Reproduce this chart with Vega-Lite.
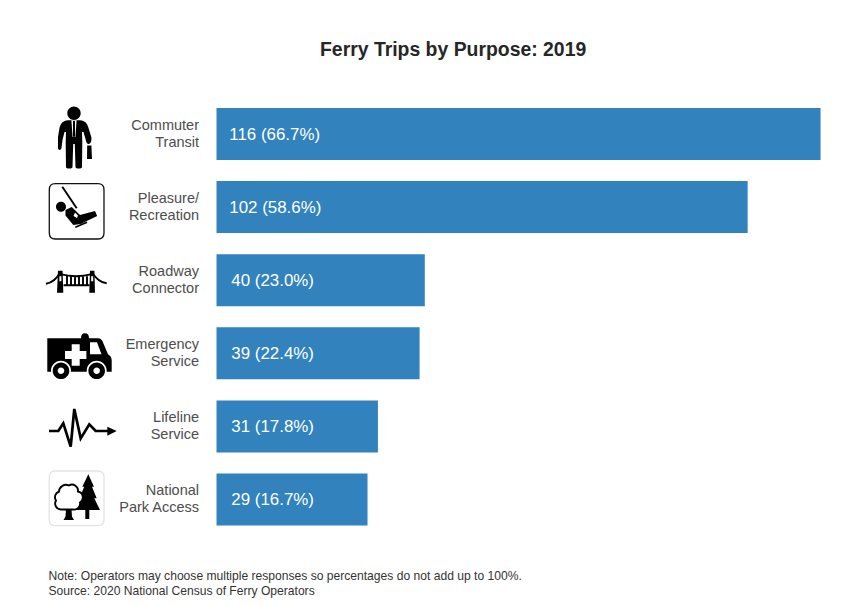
{
  "$schema": "https://vega.github.io/schema/vega-lite/v6.json",
  "width": 846,
  "height": 417.5,
  "autosize": "none",
  "padding": {"top": 108, "left": 0, "right": 0, "bottom": 79.5},
  "background": "white",
  "config": {"view": {"stroke": null}, "font": "Liberation Sans"},
  "title": {
    "text": "Ferry Trips by Purpose: 2019",
    "anchor": "start",
    "dx": 320,
    "offset": 46,
    "font": "Liberation Sans",
    "fontSize": 19.4,
    "fontWeight": "bold",
    "color": "#262626"
  },
  "data": {
    "values": [
      {"purpose": "Commuter|Transit", "trips": 116, "label": "116 (66.7%)"},
      {"purpose": "Pleasure/|Recreation", "trips": 102, "label": "102 (58.6%)"},
      {"purpose": "Roadway|Connector", "trips": 40, "label": "40 (23.0%)"},
      {"purpose": "Emergency|Service", "trips": 39, "label": "39 (22.4%)"},
      {"purpose": "Lifeline|Service", "trips": 31, "label": "31 (17.8%)"},
      {"purpose": "National|Park Access", "trips": 29, "label": "29 (16.7%)"}
    ]
  },
  "encoding": {
    "y": {
      "field": "purpose",
      "type": "nominal",
      "sort": null,
      "axis": null,
      "scale": {"paddingInner": 0.2886, "paddingOuter": 0}
    }
  },
  "resolve": {"scale": {"shape": "independent"}},
  "layer": [
    {
      "mark": {"type": "bar", "color": "#3182bd"},
      "encoding": {
        "x": {
          "field": "trips",
          "type": "quantitative",
          "scale": {"domain": [-41.58, 120.89], "nice": false, "zero": false},
          "axis": {
            "domain": false,
            "ticks": false,
            "labels": false,
            "grid": false,
            "title": [
              "Note: Operators may choose multiple responses so percentages do not add up to 100%.",
              "Source: 2020 National Census of Ferry Operators"
            ],
            "titleFont": "Liberation Sans",
            "titleFontSize": 12.1,
            "titleFontWeight": "normal",
            "titleColor": "#333333",
            "titleLineHeight": 15,
            "titleAlign": "left",
            "titleBaseline": "alphabetic",
            "titleX": 48,
            "titleY": 53.5
          }
        }
      }
    },
    {
      "transform": [{"filter": "datum.trips >= 100"}],
      "mark": {"type": "text", "align": "left", "baseline": "middle", "color": "white", "fontSize": 16.9, "dy": 1},
      "encoding": {
        "x": {"datum": 2.45, "type": "quantitative"},
        "text": {"field": "label"}
      }
    },
    {
      "transform": [{"filter": "datum.trips < 100"}],
      "mark": {"type": "text", "align": "left", "baseline": "middle", "color": "white", "fontSize": 16.9, "dy": 1},
      "encoding": {
        "x": {"datum": 2.85, "type": "quantitative"},
        "text": {"field": "label"}
      }
    },
    {
      "mark": {"type": "text", "align": "right", "baseline": "middle", "color": "#4d4d4d", "fontSize": 14.5, "lineBreak": "|", "lineHeight": 17, "dy": -8.5},
      "encoding": {
        "x": {"datum": -3.36, "type": "quantitative"},
        "text": {"field": "purpose"}
      }
    },
    {
      "transform": [{"filter": "datum.trips === 102 || datum.trips === 29"}],
      "mark": {"type": "point", "filled": false, "size": 4, "opacity": 1, "strokeWidth": 1.3},
      "encoding": {
        "x": {"datum": -27.37, "type": "quantitative"},
        "stroke": {"condition": {"test": "datum.trips === 102", "value": "#111111"}, "value": "#e4e4e4"},
        "shape": {
          "field": "purpose",
          "type": "nominal",
          "legend": null,
          "scale": {
            "domain": ["Pleasure/|Recreation", "National|Park Access"],
            "range": [
              "M-18.7,-23.4 L24,-23.4 Q30,-23.4 30,-17.4 L30,25.9 Q30,31.9 24,31.9 L-18.7,31.9 Q-24.7,31.9 -24.7,25.9 L-24.7,-17.4 Q-24.7,-23.4 -18.7,-23.4 Z",
              "M-18.7,-28.5 L24,-28.5 Q30,-28.5 30,-22.5 L30,20.2 Q30,26.2 24,26.2 L-18.7,26.2 Q-24.7,26.2 -24.7,20.2 L-24.7,-22.5 Q-24.7,-28.5 -18.7,-28.5 Z"
            ]
          }
        }
      }
    },
    {
      "mark": {"type": "point", "filled": true, "size": 4, "opacity": 1, "color": "#000000", "strokeWidth": 0},
      "encoding": {
        "x": {"datum": -27.37, "type": "quantitative"},
        "shape": {
          "field": "purpose",
          "type": "nominal",
          "legend": null,
          "scale": {
            "domain": ["Commuter|Transit", "Pleasure/|Recreation", "Roadway|Connector", "Emergency|Service", "Lifeline|Service", "National|Park Access"],
            "range": [
              "M-6.7,-20.7 A6.7,6.7 0 1 0 6.7,-20.7 A6.7,6.7 0 1 0 -6.7,-20.7 Z M-6,-13.7 L6,-13.7 C11,-13.7 13.5,-10 14.5,-6 L17.3,3 C17.8,6 17,10 14.7,10 C13,10 12,8 11.5,5 L9.5,-2 L8,-2 L8.3,9 L8,33 C8,35 1.5,35 1.5,33 L0.8,10 L-0.8,10 L-1.5,33 C-1.5,35 -8,35 -8,33 L-8.3,9 L-8,-2 L-9.5,-2 L-11.5,6 L-12.5,14 C-13,16.5 -15.8,16.5 -16,14 L-16,3 L-14.5,-6 C-13.5,-10 -11,-13.7 -6,-13.7 Z M13.2,11.5 L17.4,11.5 L18,25 L13,25 Z",
              "M-18,-0.4 A5,5 0 1 0 -8,-0.4 A5,5 0 1 0 -18,-0.4 Z M-8.5,2.9 L-2.3,0 L6,8 L21,3.8 L23.2,9 L6.5,17 L-0.7,18 L-8.5,8.5 Z M1,19.4 L12.7,14.4 L13.4,15.8 L1.6,20.8 Z",
              "M-16,-9.5 L-11.4,-9.5 L-10.7,12.5 L-17,12.5 Z M16,-9.5 L20.4,-9.5 L21,12.5 L15.3,12.5 Z",
              "M-26.7,-15 L24,-15 Q27,-15 28.5,-12 L34,1 Q37.7,3 37.7,7 L37.7,18.4 L-26.7,18.4 Z M7,-15 Q7,-20 11,-20 Q15,-20 15,-15 Z",
              "M33.3,0.3 L42.7,4.6 L33.3,9.3 Z",
              "M14.3,-25.2 L20,-12.8 L18,-12.8 L22.7,-1.2 L20.3,-1.2 L26,10.5 L15.3,10.5 L15.3,19.5 L11.3,19.5 L11.3,10.5 L2.7,10.5 L7.7,-1.2 L5.3,-1.2 L10.3,-12.8 L8.3,-12.8 Z"
            ]
          }
        }
      }
    },
    {
      "mark": {"type": "point", "filled": true, "size": 4, "opacity": 1, "color": "#ffffff", "strokeWidth": 0},
      "encoding": {
        "x": {"datum": -27.37, "type": "quantitative"},
        "shape": {
          "field": "purpose",
          "type": "nominal",
          "legend": null,
          "scale": {
            "domain": ["Commuter|Transit", "Pleasure/|Recreation", "Roadway|Connector", "Emergency|Service", "Lifeline|Service", "National|Park Access"],
            "range": [
              "M-2.6,-13.7 L2.6,-13.7 L1.4,3 L-1.4,3 Z",
              "M1,5.5 L4,8.5 L3,11 L-0.5,9 Z",
              "M-14.6,-4 L-12.6,-4 L-12.6,1 L-14.6,1 Z M17.2,-4 L19.2,-4 L19.2,1 L17.2,1 Z",
              "M16,-11 L23,-11 L27.5,1 L16,1 Z M-2.3,-9 L5.7,-9 L5.7,-2.3 L12.4,-2.3 L12.4,5.7 L5.7,5.7 L5.7,12.4 L-2.3,12.4 L-2.3,5.7 L-9,5.7 L-9,-2.3 L-2.3,-2.3 Z M-23,17.4 A10,10 0 1 0 -3,17.4 A10,10 0 1 0 -23,17.4 Z M12.7,17.4 A10,10 0 1 0 32.7,17.4 A10,10 0 1 0 12.7,17.4 Z",
              "M0,0",
              "M-13,10 A6,6 0 0 1 -18,1 A6,6 0 0 1 -15,-8 A7,7 0 0 1 -5,-14 A6,6 0 0 1 4,-8 A6,6 0 0 1 6,3 A6,6 0 0 1 -1,10 Z"
            ]
          }
        }
      }
    },
    {
      "transform": [{"filter": "datum.trips === 116 || datum.trips === 39 || datum.trips === 29"}],
      "mark": {"type": "point", "filled": true, "size": 4, "opacity": 1, "color": "#000000", "strokeWidth": 0},
      "encoding": {
        "x": {"datum": -27.37, "type": "quantitative"},
        "shape": {
          "field": "purpose",
          "type": "nominal",
          "legend": null,
          "scale": {
            "domain": ["Commuter|Transit", "Emergency|Service", "National|Park Access"],
            "range": [
              "M-1,-13 L1,-13 L1,2 L0,4 L-1,2 Z",
              "M-21.3,17.4 A8.3,8.3 0 1 1 -4.7,17.4 A8.3,8.3 0 1 1 -21.3,17.4 Z M-16.3,17.4 A3.3,3.3 0 1 0 -9.7,17.4 A3.3,3.3 0 1 0 -16.3,17.4 Z M14.4,17.4 A8.3,8.3 0 1 1 31,17.4 A8.3,8.3 0 1 1 14.4,17.4 Z M19.4,17.4 A3.3,3.3 0 1 0 26,17.4 A3.3,3.3 0 1 0 19.4,17.4 Z",
              "M-8,10 L-2.5,10 L-2,17 L0,20.5 L-10.5,20.5 L-8.5,17 Z"
            ]
          }
        }
      }
    },
    {
      "transform": [{"filter": "datum.trips === 102 || datum.trips === 40 || datum.trips === 29"}],
      "mark": {"type": "point", "filled": false, "size": 4, "opacity": 1, "color": "#000000", "strokeWidth": 1.9},
      "encoding": {
        "x": {"datum": -27.37, "type": "quantitative"},
        "shape": {
          "field": "purpose",
          "type": "nominal",
          "legend": null,
          "scale": {
            "domain": ["Pleasure/|Recreation", "Roadway|Connector", "National|Park Access"],
            "range": [
              "M-11.7,-20.4 L2.7,1.2",
              "M-28,3.5 Q-19,2 -13.7,-8 M-13.7,-6 Q2,-2 18,-6 M18,-8 Q24,2 32.7,3.1 M-10.5,5 L15.5,5 M-7,-4 L-7,5 M-3,-3.5 L-3,5 M1,-3.5 L1,5 M5,-3.5 L5,5 M9,-3.5 L9,5 M13,-4 L13,5",
              "M-13,10 A6,6 0 0 1 -18,1 A6,6 0 0 1 -15,-8 A7,7 0 0 1 -5,-14 A6,6 0 0 1 4,-8 A6,6 0 0 1 6,3 A6,6 0 0 1 -1,10 Z"
            ]
          }
        }
      }
    },
    {
      "transform": [{"filter": "datum.trips === 31"}],
      "mark": {
        "type": "point",
        "filled": false,
        "size": 4,
        "opacity": 1,
        "color": "#000000",
        "strokeWidth": 2.7,
        "shape": "M-25,4.6 L-15.7,4.6 L-10.7,-3.1 L-3.3,20.3 L0.3,-17.4 L6.7,12 L15.3,-2 L21.7,4.6 L36,4.6"
      },
      "encoding": {
        "x": {"datum": -27.37, "type": "quantitative"}
      }
    }
  ]
}
